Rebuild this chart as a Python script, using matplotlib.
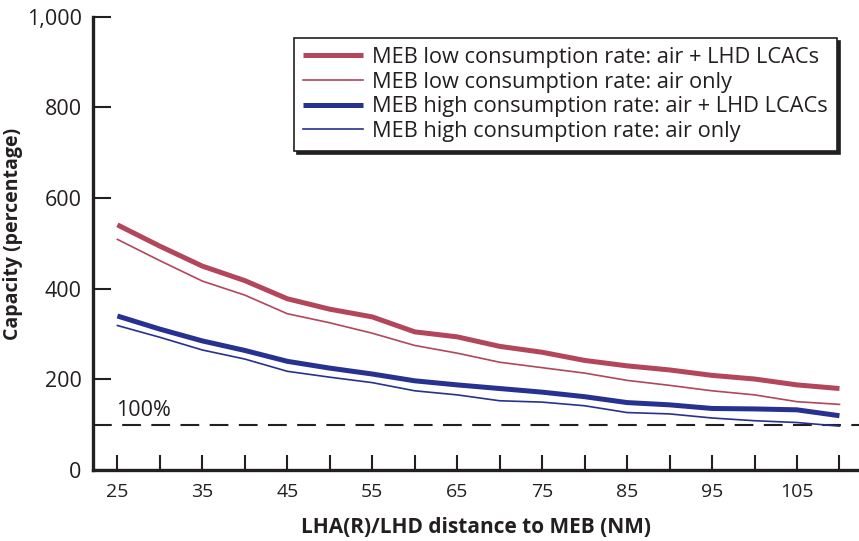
import numpy as np
import matplotlib
matplotlib.use("Agg")
import matplotlib.pyplot as plt
from matplotlib.ticker import FuncFormatter

# distance to MEB (NM)
dist = [25, 30, 35, 40, 45, 50, 55, 60, 65, 70, 75, 80, 85, 90, 95, 100, 105, 110]

low_air_lcac = [541, 494, 450, 418, 378, 355, 338, 305, 294, 273, 260, 242, 230, 221, 209, 201, 188, 180]
low_air_only = [509, 462, 417, 386, 345, 325, 302, 275, 258, 238, 226, 214, 198, 187, 175, 166, 151, 145]
high_air_lcac = [340, 311, 285, 264, 240, 225, 212, 197, 188, 180, 172, 162, 149, 144, 136, 135, 133, 120]
high_air_only = [319, 293, 265, 245, 218, 205, 193, 175, 166, 153, 150, 142, 127, 124, 115, 109, 105, 97]

labels = ["MEB low consumption rate: air + LHD LCACs",
          "MEB low consumption rate: air only",
          "MEB high consumption rate: air + LHD LCACs",
          "MEB high consumption rate: air only"]

RED = "#b3465a"
BLUE = "#27318f"
INK = "#231f20"

plt.rcParams['font.family'] = ['Open Sans', 'DejaVu Sans']

fig = plt.figure(figsize=(8.59, 5.41), dpi=100)
ax = fig.add_axes([0.108, 0.131, 0.892, 0.838])

ax.plot(dist, low_air_lcac, color=RED, lw=3.6, label=labels[0], solid_capstyle='butt')
ax.plot(dist, low_air_only, color=RED, lw=1.2, label=labels[1])
ax.plot(dist, high_air_lcac, color=BLUE, lw=3.6, label=labels[2], solid_capstyle='butt')
ax.plot(dist, high_air_only, color=BLUE, lw=1.2, label=labels[3])

ax.axhline(100, color=INK, lw=1.5, dashes=(9, 5), zorder=1)
ax.text(24.8, 109, "100%", fontsize=15.5, color=INK, ha='left', va='bottom')

ax.set_xlim(22.1, 112.3)
ax.set_ylim(0, 1000)

ax.set_xticks(np.arange(25, 110, 10))
ax.set_xticks(np.arange(30, 111, 10), minor=True)
ax.set_yticks([0, 200, 400, 600, 800, 1000])
ax.yaxis.set_major_formatter(FuncFormatter(lambda v, p: f"{int(v):,}"))

for s in ['top', 'right']:
    ax.spines[s].set_visible(False)
for s in ['left', 'bottom']:
    ax.spines[s].set_linewidth(2.4)
    ax.spines[s].set_color(INK)

ax.tick_params(axis='both', which='both', direction='in', color=INK, width=1.5,
               labelcolor=INK)
ax.tick_params(axis='x', which='both', length=11, pad=9, labelsize=14)
ax.tick_params(axis='y', length=13, pad=8, labelsize=15.5)

ax.set_xlabel("LHA(R)/LHD distance to MEB (NM)", fontsize=15, fontweight='bold',
              color=INK, labelpad=12)
ax.set_ylabel("Capacity (percentage)", fontsize=14, fontweight='bold', color=INK)
ax.yaxis.set_label_coords(-0.091, 0.52)

leg = ax.legend(loc='upper right', bbox_to_anchor=(0.9715, 0.9536), fontsize=15.7,
                frameon=True, fancybox=False, edgecolor=INK, handlelength=2.75,
                handletextpad=0.43, labelspacing=0.17, borderpad=0.42,
                borderaxespad=0, shadow={'color': INK, 'alpha': 1})
leg.get_frame().set_linewidth(1.2)
for t in leg.get_texts():
    t.set_color(INK)

fig.savefig("out.png", dpi=100)
